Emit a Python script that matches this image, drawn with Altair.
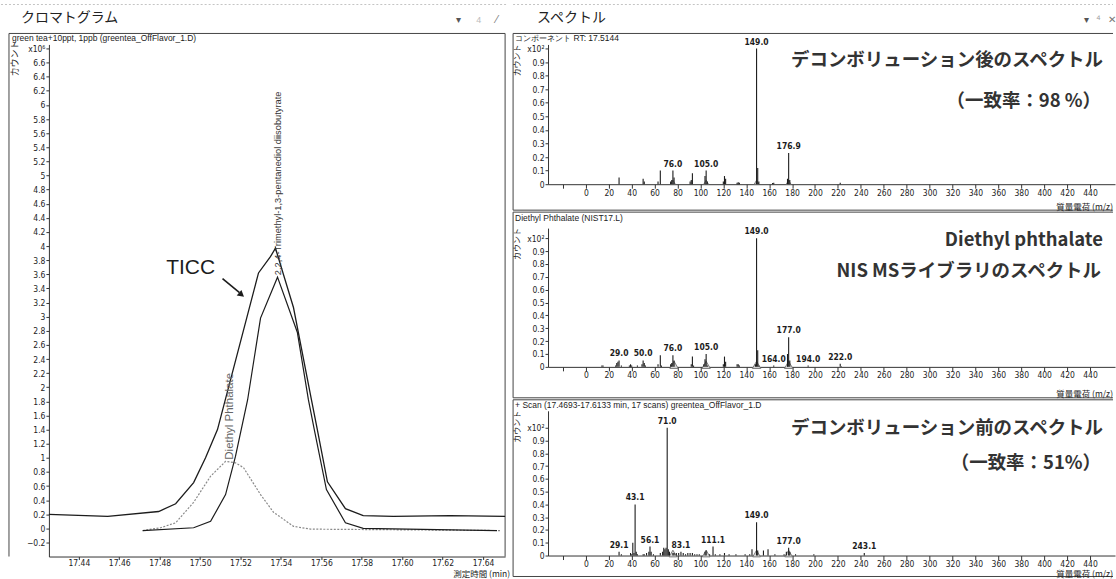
import altair as alt
import pandas as pd

# ---------------- chromatogram (counts x10^6 vs minutes) ----------------
tic_time = [17.4252, 17.4543, 17.4795, 17.4879, 17.4968, 17.5027, 17.5086, 17.5289, 17.5348,
            17.5373, 17.5462, 17.5551, 17.5580, 17.5630, 17.5719, 17.5807, 17.5956, 17.6237, 17.6509]
tic_count = [0.20, 0.17, 0.24, 0.35, 0.65, 1.00, 1.40, 3.62, 3.85,
             3.97, 3.13, 1.82, 1.40, 0.66, 0.28, 0.18, 0.17, 0.18, 0.17]

tmp_time = [17.4716, 17.4968, 17.5052, 17.5126, 17.5175, 17.5235, 17.5299, 17.5383,
            17.5481, 17.5536, 17.5565, 17.5625, 17.5719, 17.5807, 17.6469]
tmp_count = [-0.03, 0.01, 0.10, 0.48, 1.02, 1.82, 2.98, 3.56, 2.78, 1.82, 1.40, 0.55, 0.08, 0.00, -0.03]

dep_time = [17.4716, 17.4805, 17.4879, 17.4968, 17.5052, 17.5126, 17.5175, 17.5215,
            17.5299, 17.5363, 17.5462, 17.5546, 17.6484]
dep_count = [-0.03, 0.01, 0.08, 0.37, 0.74, 0.95, 0.93, 0.86, 0.48, 0.23, 0.03, -0.01, -0.03]

time_ticks = [17.44, 17.46, 17.48, 17.50, 17.52, 17.54, 17.56, 17.58, 17.60, 17.62, 17.64]
count_ticks = [round(-0.2 + 0.2 * i, 1) for i in range(36)]

# ---------------- spectra (counts x10^2 vs m/z) ----------------
p1_mz = [29, 50, 51, 63, 65, 74, 75, 76, 77, 91, 92, 93, 104, 105, 106, 120, 121, 122,
         132, 133, 134, 149, 150, 151, 163, 164, 176, 177, 178, 222]
p1_int = [0.05, 0.04, 0.02, 0.02, 0.10, 0.02, 0.03, 0.10, 0.05, 0.02, 0.03, 0.08, 0.06, 0.10, 0.02,
          0.02, 0.06, 0.04, 0.01, 0.015, 0.01, 1.0, 0.12, 0.02, 0.008, 0.01, 0.04, 0.23, 0.03, 0.01]
p1_lab_mz = [76, 105, 149, 177]
p1_lab = ["76.0", "105.0", "149.0", "176.9"]
p1_tri = [76, 105, 149, 177]

p2_mz = [14, 15, 26, 27, 28, 29, 31, 38, 39, 40, 45, 49, 50, 51, 52, 63, 65, 66, 74, 75, 76, 77,
         92, 93, 94, 103, 104, 105, 106, 120, 121, 122, 132, 133, 134, 148, 149, 150, 151, 164,
         176, 177, 178, 194, 222, 223]
p2_int = [0.01, 0.01, 0.01, 0.03, 0.04, 0.05, 0.01, 0.01, 0.02, 0.01, 0.01, 0.02, 0.05, 0.03, 0.01,
          0.02, 0.09, 0.01, 0.02, 0.03, 0.09, 0.05, 0.02, 0.08, 0.01, 0.02, 0.06, 0.10, 0.01, 0.02,
          0.08, 0.04, 0.02, 0.02, 0.01, 0.02, 1.0, 0.13, 0.01, 0.01, 0.10, 0.23, 0.05, 0.01, 0.025, 0.005]
p2_lab_mz = [29, 50, 76, 105, 149, 164, 177, 194, 222]
p2_lab = ["29.0", "50.0", "76.0", "105.0", "149.0", "164.0", "177.0", "194.0", "222.0"]
p2_tri = [77, 105, 149, 177]

p3_mz = [29, 31, 39, 40, 41, 42, 43, 44, 45, 50, 51, 53, 55, 56, 57, 59, 65, 67, 68, 69, 70, 71,
         72, 73, 76, 77, 79, 81, 83, 85, 87, 89, 91, 93, 95, 97, 99, 104, 105, 108, 111, 113, 117,
         121, 125, 131, 139, 143, 145, 149, 150, 155, 159, 165, 173, 175, 177, 178, 183, 199, 243]
p3_int = [0.03, 0.01, 0.02, 0.01, 0.10, 0.02, 0.40, 0.03, 0.01, 0.01, 0.01, 0.02, 0.03, 0.07, 0.03,
          0.01, 0.02, 0.03, 0.06, 0.05, 0.06, 1.0, 0.05, 0.03, 0.02, 0.02, 0.02, 0.02, 0.03, 0.02,
          0.01, 0.02, 0.02, 0.02, 0.01, 0.01, 0.01, 0.03, 0.04, 0.01, 0.07, 0.01, 0.01, 0.02, 0.01,
          0.01, 0.01, 0.01, 0.05, 0.26, 0.04, 0.04, 0.05, 0.01, 0.01, 0.03, 0.06, 0.03, 0.01, 0.01, 0.02]
p3_lab_mz = [29, 43, 56, 71, 83, 111, 149, 177, 243]
p3_lab = ["29.1", "43.1", "56.1", "71.0", "83.1", "111.1", "149.0", "177.0", "243.1"]
p3_tri = [76, 105, 149, 177]

mz_ticks = [-20] + list(range(0, 460, 20))
int_ticks = [round(0.1 * i, 1) for i in range(11)]

NARROW = "Liberation Sans Narrow, DejaVu Sans Condensed, Liberation Sans, Arial, sans-serif"
SANS = "Liberation Sans, Arial, sans-serif"
CJK = "Noto Sans CJK JP"
INK = "#1c1c1c"


def txt(s, x, y, size=9, font=SANS, align="left", color=INK, angle=0, weight="normal", baseline="middle"):
    return alt.Chart(pd.DataFrame({"s": [s]})).mark_text(
        fontSize=size, font=font, align=align, baseline=baseline, color=color, angle=angle,
        fontWeight=weight).encode(x=alt.value(x), y=alt.value(y), text="s:N")


def hrule(x1, x2, y, color="#444", width=1, dash=None):
    kw = dict(color=color, strokeWidth=width)
    if dash:
        kw["strokeDash"] = dash
    return alt.Chart(pd.DataFrame({"k": [0]})).mark_rule(**kw).encode(
        x=alt.value(x1), x2=alt.value(x2), y=alt.value(y))


def vrule(x, y1, y2, color="#444", width=1):
    return alt.Chart(pd.DataFrame({"k": [0]})).mark_rule(color=color, strokeWidth=width).encode(
        x=alt.value(x), y=alt.value(y1), y2=alt.value(y2))


# ---------------- left: chromatogram ----------------
LW, LH = 457, 513
xt = alt.X("t:Q", scale=alt.Scale(domain=[17.4252, 17.6509], nice=False, zero=False),
           axis=alt.Axis(values=time_ticks, format=".2f", title=None, grid=False, tickSize=3,
                         labelPadding=-1, labelFont=NARROW, labelFontSize=8.5, labelColor=INK,
                         domainColor="#333", tickColor="#333", labelFlush=False))
yc = alt.Y("c:Q", scale=alt.Scale(domain=[-0.398, 6.857], nice=False, zero=False),
           axis=alt.Axis(values=count_ticks, title=None, grid=False, tickSize=3, labelPadding=1,
                         labelFont=NARROW, labelFontSize=8.5, labelColor=INK,
                         domainColor="#333", tickColor="#333", labelFlush=False,
                         labelExpr="datum.value > 6.79 ? 'x10⁶' : format(datum.value, '.1~f')"))

tic = alt.Chart(pd.DataFrame({"t": tic_time, "c": tic_count})).mark_line(
    color=INK, strokeWidth=1.3).encode(x=xt, y=yc)
tmp = alt.Chart(pd.DataFrame({"t": tmp_time, "c": tmp_count})).mark_line(
    color=INK, strokeWidth=1.2).encode(x=xt, y=yc)
dep = alt.Chart(pd.DataFrame({"t": dep_time, "c": dep_count})).mark_line(
    color="#8a8a8a", strokeWidth=1.2, strokeDash=[2, 1.5]).encode(x=xt, y=yc)

peak_labels = pd.DataFrame({
    "t": [17.5383, 17.5146],
    "c": [3.56, 0.96],
    "s": ["2,2,4-Trimethyl-1,3-pentanediol diisobutyrate", "Diethyl Phthalate"],
})
lab_tmp = alt.Chart(peak_labels.iloc[[0]]).mark_text(
    angle=270, align="left", baseline="middle", fontSize=9.3, font=SANS, color="#333", dx=2
).encode(x=xt, y=yc, text="s:N")
lab_dep = alt.Chart(peak_labels.iloc[[1]]).mark_text(
    angle=270, align="left", baseline="middle", fontSize=11.5, font=SANS, color="#666", dx=1
).encode(x=xt, y=yc, text="s:N")

ticc = alt.Chart(pd.DataFrame({"t": [17.4953], "c": [3.69], "s": ["TICC"]})).mark_text(
    fontSize=21, font=SANS, color=INK, align="center", baseline="middle").encode(x=xt, y=yc, text="s:N")
arrow_line = alt.Chart(pd.DataFrame({"t": [17.5111], "c": [3.54], "t2": [17.5195], "c2": [3.34]})).mark_rule(
    color=INK, strokeWidth=1.6).encode(x=xt, y=yc, x2="t2:Q", y2="c2:Q")
arrow_head = alt.Chart(pd.DataFrame({"t": [17.5205], "c": [3.31]})).mark_point(
    shape="triangle-up", filled=True, color=INK, size=55, angle=130, opacity=1).encode(x=xt, y=yc)

left = alt.layer(
    hrule(-48, 460, -40, color="#c4c4c4", dash=[2, 2]),
    hrule(-40, LW, -11, color="#444"),
    vrule(-40, -11, LH, color="#444"),
    vrule(LW, -11, LH, color="#444"),
    txt("クロマトグラム", -28, -26, size=14, font=CJK, color="#222"),
    txt("▾", 408, -24, size=10, color="#555"),
    txt("4", 428, -24, size=9, color="#bbb"),
    txt("⁄", 448, -24, size=11, color="#777"),
    txt("green tea+10ppt, 1ppb (greentea_OffFlavor_1.D)", -37, -6, size=8.5),
    txt("カウント", -34, 14, size=9, font=CJK, angle=270, align="center"),
    txt("測定時間 (min)", 462, 531, size=8.5, font=CJK, align="right"),
    dep, tmp, tic, lab_tmp, lab_dep, ticc, arrow_line, arrow_head,
).properties(width=LW, height=LH)

# ---------------- right: spectra ----------------
RW = 568
xm = alt.X("mz:Q", scale=alt.Scale(domain=[-33, 461.8], nice=False, zero=False),
           axis=alt.Axis(values=mz_ticks, title=None, grid=False, tickSize=4, labelPadding=0,
                         labelFont=NARROW, labelFontSize=8.5, labelColor=INK, labelFlush=False,
                         domainColor="#333", tickColor="#333",
                         labelExpr="datum.value < 0 ? '' : format(datum.value, 'd')"))


def panel(mz, inten, lab_mz, labs, tri, tri_size, height, ymax, sub, sub_y, frame_top, frame_bot,
          big1, big1_y, big2, big2_y, title_y, extra=None):
    yi = alt.Y("i:Q", scale=alt.Scale(domain=[0, ymax], nice=False, zero=False),
               axis=alt.Axis(values=int_ticks, title=None, grid=False, tickSize=3, labelPadding=1,
                             labelFont=NARROW, labelFontSize=8.5, labelColor=INK, labelFlush=False,
                             domainColor="#333", tickColor="#333",
                             labelExpr="datum.value > 0.99 ? 'x10²' : format(datum.value, '.1~f')"))
    df = pd.DataFrame({"mz": mz, "i": inten, "z": [0] * len(mz)})
    sticks = alt.Chart(df).mark_rule(color=INK, strokeWidth=1.1).encode(x=xm, y=yi, y2="z:Q")
    ldf = pd.DataFrame({"mz": lab_mz, "i": [inten[mz.index(m)] for m in lab_mz], "s": labs})
    labels = alt.Chart(ldf).mark_text(dy=-7, fontSize=8.5, font=NARROW, color=INK,
                                      fontWeight="bold").encode(x=xm, y=yi, text="s:N")
    tdf = pd.DataFrame({"mz": tri, "i": [0] * len(tri)})
    tris = alt.Chart(tdf).mark_point(shape="triangle-up", filled=True, fill="#d4d4d4", stroke="#666",
                                     strokeWidth=0.8, size=tri_size, opacity=1,
                                     yOffset=-2).encode(x=xm, y=yi)
    layers = [
        hrule(-35, 566, frame_top, color="#444"),
        vrule(-35, frame_top, frame_bot, color="#444"),
        hrule(-35, 566, frame_bot, color="#444"),
        txt(sub, -33, sub_y, size=8.5),
        txt("カウント", -30, 16, size=8, font=CJK, angle=270, align="center"),
        txt("質量電荷 (m/z)", 566, title_y, size=8.5, font=CJK, align="right"),
        tris, sticks, labels,
        txt(big1, 556, big1_y, size=18.5, font=CJK, align="right", color="#333", weight="bold"),
        txt(big2, 554, big2_y, size=18.5, font=CJK, align="right", color="#333", weight="bold"),
    ]
    if extra:
        layers = extra + layers
    return alt.layer(*layers).properties(width=RW, height=height)


p1 = panel(p1_mz, p1_int, p1_lab_mz, p1_lab, p1_tri, 22, 140, 1.03,
           "コンポーネント RT: 17.5144", -6, -11, 166,
           "デコンボリューション後のスペクトル", 16, "（一致率：98 %）", 57, 163,
           extra=[hrule(-35, 566, -40, color="#c4c4c4", dash=[2, 2]),
                  txt("スペクトル", -11, -26, size=14, font=CJK, color="#222"),
                  txt("▾", 537, -24, size=10, color="#555"),
                  txt("⁴", 549, -24, size=11, color="#999"),
                  txt("✕", 561, -24, size=10, color="#777")])
p2 = panel(p2_mz, p2_int, p2_lab_mz, p2_lab, p2_tri, 70, 139, 1.078,
           "Diethyl Phthalate (NIST17.L)", -10, -16, 170,
           "Diethyl phthalate", 12, "NIS MSライブラリのスペクトル", 43, 166)
p3 = panel(p3_mz, p3_int, p3_lab_mz, p3_lab, p3_tri, 60, 145, 1.133,
           "+ Scan (17.4693-17.6133 min, 17 scans) greentea_OffFlavor_1.D", -6, -11, 166,
           "デコンボリューション前のスペクトル", 17, "（一致率：51%）", 52, 164)

right = alt.vconcat(p1, p2, p3, spacing=44, bounds="flush")

chart = alt.hconcat(left, right, spacing=43, bounds="flush").properties(
    padding={"left": 0, "top": 3, "right": 0, "bottom": 0},
    background="white",
).configure_view(stroke=None)

chart.save("out.html", embed_options={"renderer": "svg", "actions": False})
